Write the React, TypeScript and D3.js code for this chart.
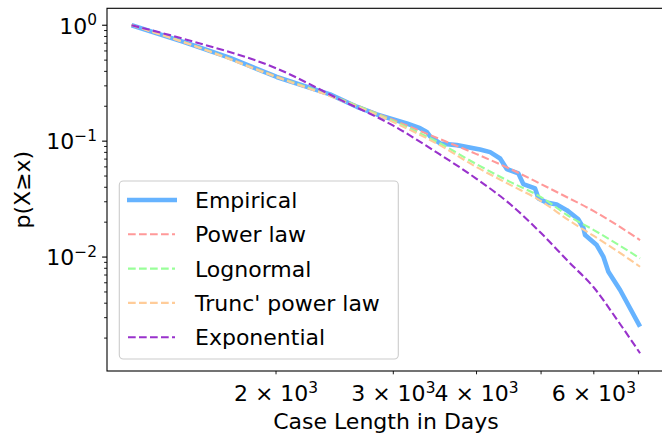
import * as d3 from "d3";
import React from "react";

// values
const xGrid = [1214, 1500, 2000, 2500, 3000, 3500, 4000, 4500, 5000, 5500, 6000, 6500, 7040];
const powerLaw = [1.0, 0.673, 0.363, 0.23, 0.152, 0.106, 0.0773, 0.0574, 0.0426, 0.0323, 0.0249, 0.0189, 0.014];
const lognormal = [1.0, 0.673, 0.36, 0.23, 0.149, 0.098, 0.0633, 0.0443, 0.0329, 0.0226, 0.0171, 0.013, 0.00975];
const truncPowerLaw = [1.0, 0.67, 0.358, 0.226, 0.146, 0.0942, 0.0597, 0.0418, 0.0304, 0.0208, 0.0152, 0.0113, 0.00825];
const exponential = [1.0, 0.725, 0.426, 0.227, 0.136, 0.0788, 0.0473, 0.0284, 0.0161, 0.0091, 0.00546, 0.00289, 0.00148];

const empiricalX = [1214, 1452, 1706, 2005, 2411, 2644, 2834, 3143, 3291, 3368, 3407, 3527, 3736, 4049, 4193, 4340, 4441, 4622, 4703, 4897, 4954, 5099, 5278, 5464, 5682, 5788, 5821, 6060, 6200, 6310, 6571, 7040];
const empiricalY = [1.0, 0.718, 0.523, 0.358, 0.253, 0.198, 0.17, 0.142, 0.1294, 0.12, 0.11, 0.0955, 0.0924, 0.0848, 0.0804, 0.0709, 0.0574, 0.0527, 0.0426, 0.0391, 0.0321, 0.0295, 0.0284, 0.0254, 0.0213, 0.0178, 0.0155, 0.0127, 0.0101, 0.00747, 0.0052, 0.00251];

const xTickValues = [2000, 3000, 4000, 5000, 6000, 7000];
const xTickLabels = [
  { v: 2000, m: "2" },
  { v: 3000, m: "3" },
  { v: 4000, m: "4" },
  { v: 6000, m: "6" },
];
const yMajor = [{ v: 1, e: "0" }, { v: 0.1, e: "\u22121" }, { v: 0.01, e: "\u22122" }];

const series = [
  { name: "Power law", values: powerLaw, color: "#ff9999" },
  { name: "Lognormal", values: lognormal, color: "#99ff99" },
  { name: "Trunc' power law", values: truncPowerLaw, color: "#ffcc99" },
  { name: "Exponential", values: exponential, color: "#9932cc" },
];

const W = 662, H = 434;
const left = 107, right = 665, top = 8.3, bottom = 371;
const font = "DejaVu Sans";

export default function App() {
  const x = d3.scaleLog().domain([1115, 7674]).range([left, right]);
  const y = d3.scaleLog().domain([0.00104, 1.4]).range([bottom, top]);

  const line = d3.line<[number, number]>()
    .x((d) => x(d[0]))
    .y((d) => y(d[1]))
    .curve(d3.curveMonotoneX);
  const stepLine = d3.line<[number, number]>()
    .x((d) => x(d[0]))
    .y((d) => y(d[1]));

  const empirical = empiricalX.map((v, i) => [v, empiricalY[i]] as [number, number]);

  const yMinor: number[] = [];
  for (let k = -3; k <= 0; k++) {
    for (let m = 2; m <= 9; m++) {
      const v = m * Math.pow(10, k);
      if (v > 0.00104 && v < 1.4) yMinor.push(v);
    }
  }

  const legendRows = [{ name: "Empirical", color: "#66b3ff", solid: true }, ...series.map((s) => ({ name: s.name, color: s.color, solid: false }))];

  return (
    <svg width={W} height={H} style={{ position: "absolute", left: 0, top: 0, background: "#fff" }} fontFamily={font}>
      <defs>
        <clipPath id="plot">
          <rect x={left} y={top} width={right - left} height={bottom - top} />
        </clipPath>
      </defs>
      <rect x={0} y={0} width={W} height={H} fill="#fff" />

      <g clipPath="url(#plot)" fill="none">
        <path d={stepLine(empirical) || ""} stroke="#66b3ff" strokeWidth={4.6} strokeLinejoin="round" />
        {series.map((s) => (
          <path
            key={s.name}
            d={line(xGrid.map((v, i) => [v, s.values[i]] as [number, number])) || ""}
            stroke={s.color}
            strokeWidth={2.1}
            strokeDasharray="7.7,3.3"
          />
        ))}
      </g>

      {/* spines */}
      <rect x={left} y={top} width={right - left} height={bottom - top} fill="none" stroke="#000" strokeWidth={1.1} />

      {/* y ticks */}
      {yMajor.map((t) => (
        <g key={t.e}>
          <line x1={left} x2={left - 4.9} y1={y(t.v)} y2={y(t.v)} stroke="#000" strokeWidth={1.1} />
          <text x={97} y={y(t.v) + 8.3} fontSize={22} textAnchor="end">
            10<tspan fontSize={15.4} dy={-8.5}>{t.e}</tspan>
          </text>
        </g>
      ))}
      {yMinor.map((v) => (
        <line key={v} x1={left} x2={left - 2.9} y1={y(v)} y2={y(v)} stroke="#000" strokeWidth={0.9} />
      ))}

      {/* x ticks */}
      {xTickValues.map((v) => (
        <line key={v} x1={x(v)} x2={x(v)} y1={bottom} y2={bottom + 3.3} stroke="#000" strokeWidth={0.9} />
      ))}
      {xTickLabels.map((t) => (
        <text key={t.v} x={x(t.v)} y={401} fontSize={22} textAnchor="middle">
          {t.m} {"\u00d7"} 10<tspan fontSize={15.4} dy={-8.5}>3</tspan>
        </text>
      ))}

      {/* axis labels */}
      <text x={(left + right) / 2} y={429} fontSize={22} textAnchor="middle">Case Length in Days</text>
      <text transform={`translate(30,${(top + bottom) / 2}) rotate(-90)`} fontSize={22} textAnchor="middle">p(X{"\u2265"}x)</text>

      {/* legend */}
      <rect x={119.3} y={181} width={279} height={178} rx={4} fill="#fff" fillOpacity={0.8} stroke="#cccccc" strokeWidth={1.1} />
      {legendRows.map((r, i) => {
        const cy = 200 + i * 34.3;
        return (
          <g key={r.name}>
            {r.solid ? (
              <line x1={127} x2={177} y1={cy} y2={cy} stroke={r.color} strokeWidth={4.6} />
            ) : (
              <line x1={128} x2={175} y1={cy} y2={cy} stroke={r.color} strokeWidth={2.1} strokeDasharray="7.7,3.3" />
            )}
            <text x={195} y={cy + 8} fontSize={22}>{r.name}</text>
          </g>
        );
      })}
    </svg>
  );
}
